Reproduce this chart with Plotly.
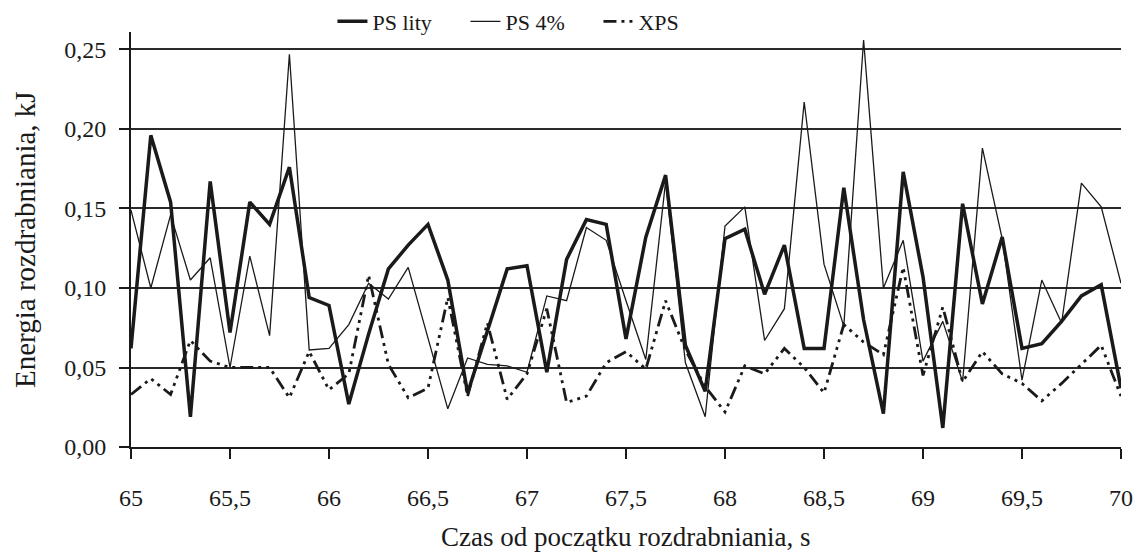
import plotly.graph_objects as go

czas = [65.0, 65.1, 65.2, 65.3, 65.4, 65.5, 65.6, 65.7, 65.8, 65.9,
        66.0, 66.1, 66.2, 66.3, 66.4, 66.5, 66.6, 66.7, 66.8, 66.9,
        67.0, 67.1, 67.2, 67.3, 67.4, 67.5, 67.6, 67.7, 67.8, 67.9,
        68.0, 68.1, 68.2, 68.3, 68.4, 68.5, 68.6, 68.7, 68.8, 68.9,
        69.0, 69.1, 69.2, 69.3, 69.4, 69.5, 69.6, 69.7, 69.8, 69.9,
        70.0]

ps_lity = [0.062, 0.196, 0.154, 0.019, 0.167, 0.072, 0.154, 0.140, 0.176, 0.094,
           0.089, 0.027, 0.071, 0.112, 0.127, 0.140, 0.105, 0.034, 0.073, 0.112,
           0.114, 0.047, 0.118, 0.143, 0.140, 0.068, 0.132, 0.171, 0.064, 0.035,
           0.131, 0.137, 0.096, 0.127, 0.062, 0.062, 0.163, 0.080, 0.021, 0.173,
           0.107, 0.012, 0.153, 0.090, 0.132, 0.062, 0.065, 0.079, 0.095, 0.102,
           0.037]

ps_4 = [0.149, 0.100, 0.146, 0.105, 0.119, 0.050, 0.120, 0.070, 0.247, 0.061,
        0.062, 0.077, 0.103, 0.093, 0.113, 0.068, 0.024, 0.056, 0.052, 0.051,
        0.047, 0.095, 0.092, 0.138, 0.130, 0.092, 0.055, 0.167, 0.053, 0.019,
        0.139, 0.151, 0.067, 0.087, 0.217, 0.115, 0.076, 0.256, 0.100, 0.130,
        0.054, 0.079, 0.041, 0.188, 0.131, 0.042, 0.105, 0.078, 0.166, 0.151,
        0.103]

xps = [0.033, 0.043, 0.033, 0.067, 0.054, 0.050, 0.050, 0.050, 0.031, 0.060,
       0.036, 0.046, 0.108, 0.052, 0.031, 0.037, 0.094, 0.032, 0.078, 0.030,
       0.046, 0.087, 0.028, 0.032, 0.053, 0.060, 0.049, 0.092, 0.061, 0.038,
       0.022, 0.051, 0.046, 0.062, 0.050, 0.034, 0.077, 0.066, 0.058, 0.113,
       0.045, 0.088, 0.041, 0.060, 0.046, 0.040, 0.029, 0.040, 0.052, 0.064,
       0.032]

series_names = ["PS lity", "PS 4%", "XPS"]
x_title = "Czas od początku rozdrabniania, s"
y_title = "Energia rozdrabniania, kJ"

FONT = "Liberation Serif"
INK = "#1a1a1a"

fig = go.Figure()
fig.add_trace(go.Scatter(x=czas, y=ps_lity, name=series_names[0], mode="lines",
                         line=dict(color=INK, width=3.5)))
fig.add_trace(go.Scatter(x=czas, y=ps_4, name=series_names[1], mode="lines",
                         line=dict(color=INK, width=1.3)))
fig.add_trace(go.Scatter(x=czas, y=xps, name=series_names[2], mode="lines",
                         line=dict(color=INK, width=2.8,
                                   dash="13px,5px,3px,5px,3px,5px,3px,5px")))

fig.update_layout(
    width=1137, height=557,
    margin=dict(l=131, r=16, t=32, b=110, autoexpand=False),
    paper_bgcolor="white", plot_bgcolor="white",
    separators=", ",
    font=dict(family=FONT, size=22, color=INK),
    showlegend=True,
    legend=dict(orientation="h", x=0.405, xanchor="center",
                yref="container", y=0.999, yanchor="top",
                entrywidth=88, entrywidthmode="pixels",
                bgcolor="rgba(0,0,0,0)", font=dict(size=22, family=FONT, color=INK)),
    annotations=[
        dict(text=x_title, xref="paper", yref="paper", x=0.5, y=-0.216,
             xanchor="center", yanchor="middle", showarrow=False,
             font=dict(size=27, family=FONT, color=INK)),
        dict(text=y_title, xref="paper", yref="paper", x=-0.107, y=0.499,
             xanchor="center", yanchor="middle", showarrow=False, textangle=-90,
             font=dict(size=29, family=FONT, color=INK)),
    ],
)

fig.update_xaxes(range=[65, 70], dtick=0.5, tick0=65, showgrid=False,
                 showline=True, linecolor=INK, linewidth=1.8,
                 ticks="outside", ticklen=10, tickwidth=1.8, tickcolor=INK,
                 ticklabelstandoff=18, zeroline=False,
                 tickfont=dict(size=24, family=FONT, color=INK))
fig.update_yaxes(range=[0, 0.261], dtick=0.05, tick0=0, tickformat=".2f",
                 showgrid=True, gridcolor="#2a2a2a", gridwidth=1.8,
                 showline=True, linecolor=INK, linewidth=1.8,
                 ticks="outside", ticklen=10, tickwidth=1.8, tickcolor=INK,
                 ticklabelstandoff=8, zeroline=False,
                 tickfont=dict(size=24, family=FONT, color=INK))

fig.write_html("out.html")
